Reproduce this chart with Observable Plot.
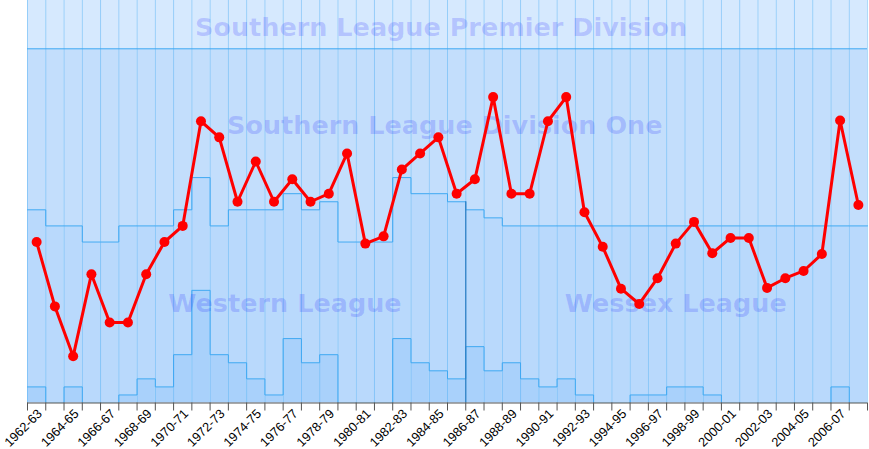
<!DOCTYPE html>
<html><head><meta charset="utf-8">
<script src="https://cdn.jsdelivr.net/npm/d3@7"></script>
<script src="https://cdn.jsdelivr.net/npm/@observablehq/plot@0.6"></script>
<style>body{margin:0;background:#fff}</style>
</head><body><div id="chart"></div>
<script>
// Seasons (x categories)
const seasons = ["1962-63","1963-64","1964-65","1965-66","1966-67","1967-68","1968-69","1969-70","1970-71","1971-72",
  "1972-73","1973-74","1974-75","1975-76","1976-77","1977-78","1978-79","1979-80","1980-81","1981-82",
  "1982-83","1983-84","1984-85","1985-86","1986-87","1987-88","1988-89","1989-90","1990-91","1991-92",
  "1992-93","1993-94","1994-95","1995-96","1996-97","1997-98","1998-99","1999-00","2000-01","2001-02",
  "2002-03","2003-04","2004-05","2005-06","2006-07","2007-08"];
// Club's overall place counted from the top of Southern League Division One
const position = [24,32,38.2,28,34,34,28,24,22,9,
  11,19,14,19,16.2,19,18,13,24.2,23.3,
  15,13,11,18,16.2,6,18,18,9,6,
  20.3,24.6,29.8,31.7,28.5,24.2,21.5,25.4,23.5,23.5,
  29.7,28.5,27.6,25.5,8.9,19.4];
// Number of clubs in Southern League Division One each season
const divisionOneSize = [20,22,22,24,24,22,22,22,20,16,
  22,20,20,20,18,20,19,24,24,24,
  16,18,18,19,20,21,22,22,22,22,
  22,22,22,22,22,22,22,22,22,22,
  22,22,22,22,22,22];
// Lowest place of the feeder league (Western / Wessex) counted from the top of Division One
const lowestPlace = [42,44,42,44,44,43,41,42,38,30,
  38,39,41,43,36,39,38,44,44,44,
  36,39,40,41,37,40,39,41,42,41,
  43,44,44,43,43,42,42,43,44,44,
  44,44,44,44,42,44];
const leagueNames = ["Southern League Premier Division","Southern League Division One","Western League","Wessex League"];
const wessexFirstSeason = "1986-87";

const N = seasons.length;
const TOP = -6, BOTTOM = 44;
const rows = seasons.map((s, i) => ({i, season: s, pos: position[i], d1: divisionOneSize[i], low: lowestPlace[i]}));
const stepPts = key => rows.flatMap(r => [{x: r.i, y: r[key]}, {x: r.i + 1, y: r[key]}]);
const wIdx = seasons.indexOf(wessexFirstSeason);

const boundary = "#3ea8f2";
const labelStyle = {fill: "#0000ff", fillOpacity: 0.17, fontSize: 25.5, fontWeight: "bold",
  fontFamily: "DejaVu Sans, Verdana, sans-serif", textAnchor: "middle", lineAnchor: "middle"};

const plot = Plot.plot({
  width: 869, height: 449,
  marginTop: 0, marginBottom: 46.5, marginLeft: 27, marginRight: 2,
  x: {domain: [0, N]},
  y: {domain: [BOTTOM, TOP], axis: null},
  style: {fontFamily: "Liberation Sans, Arial, sans-serif", background: "white", overflow: "visible"},
  marks: [
    Plot.rect(rows, {x1: "i", x2: d => d.i + 1, y1: () => TOP, y2: () => 0, fill: "#d6e9fe"}),
    Plot.rect(rows, {x1: "i", x2: d => d.i + 1, y1: () => 0, y2: "d1", fill: "#c3defc"}),
    Plot.rect(rows, {x1: "i", x2: d => d.i + 1, y1: "d1", y2: d => Math.min(d.low, BOTTOM), fill: "#b9d9fc"}),
    Plot.rect(rows.filter(d => d.low < BOTTOM), {x1: "i", x2: d => d.i + 1, y1: "low", y2: () => BOTTOM, fill: "#a9d1fb"}),
    Plot.ruleX(d3.range(N + 1), {stroke: "#4aaef3", strokeOpacity: 0.45}),
    Plot.ruleY([0], {stroke: boundary}),
    Plot.line(stepPts("d1"), {x: "x", y: "y", stroke: boundary, strokeWidth: 1}),
    Plot.line(stepPts("low"), {x: "x", y: "y", stroke: boundary, strokeWidth: 1, clip: true}),
    Plot.ruleX([wIdx], {y1: () => divisionOneSize[wIdx - 1], y2: () => BOTTOM, stroke: "#2a7cc2", strokeWidth: 1.2}),
    Plot.text([leagueNames[0]], {x: () => 22.65, y: () => -2.65, text: d => d, ...labelStyle}),
    Plot.text([leagueNames[1]], {x: () => 22.85, y: () => 9.6, text: d => d, ...labelStyle}),
    Plot.text([leagueNames[2]], {x: () => 14.1, y: () => 31.7, text: d => d, ...labelStyle}),
    Plot.text([leagueNames[3]], {x: () => 35.5, y: () => 31.7, text: d => d, ...labelStyle}),
    Plot.line(rows, {x: d => d.i + 0.5, y: "pos", stroke: "#ff0000", strokeWidth: 3}),
    Plot.dot(rows, {x: d => d.i + 0.5, y: "pos", r: 5, fill: "#ff0000"}),
    Plot.ruleY([BOTTOM], {stroke: "#555"}),
    Plot.axisX({ticks: d3.range(N + 1), tickSize: 8, tickFormat: () => "", stroke: "#555", label: null}),
    Plot.text(rows.filter(d => d.i % 2 === 0), {x: "i", y: () => BOTTOM, text: "season", rotate: -45,
      textAnchor: "end", dx: 12.5, dy: 8.5, fontSize: 12.8, fill: "black"})
  ]
});
document.getElementById("chart").append(plot);
</script>
</body></html>
